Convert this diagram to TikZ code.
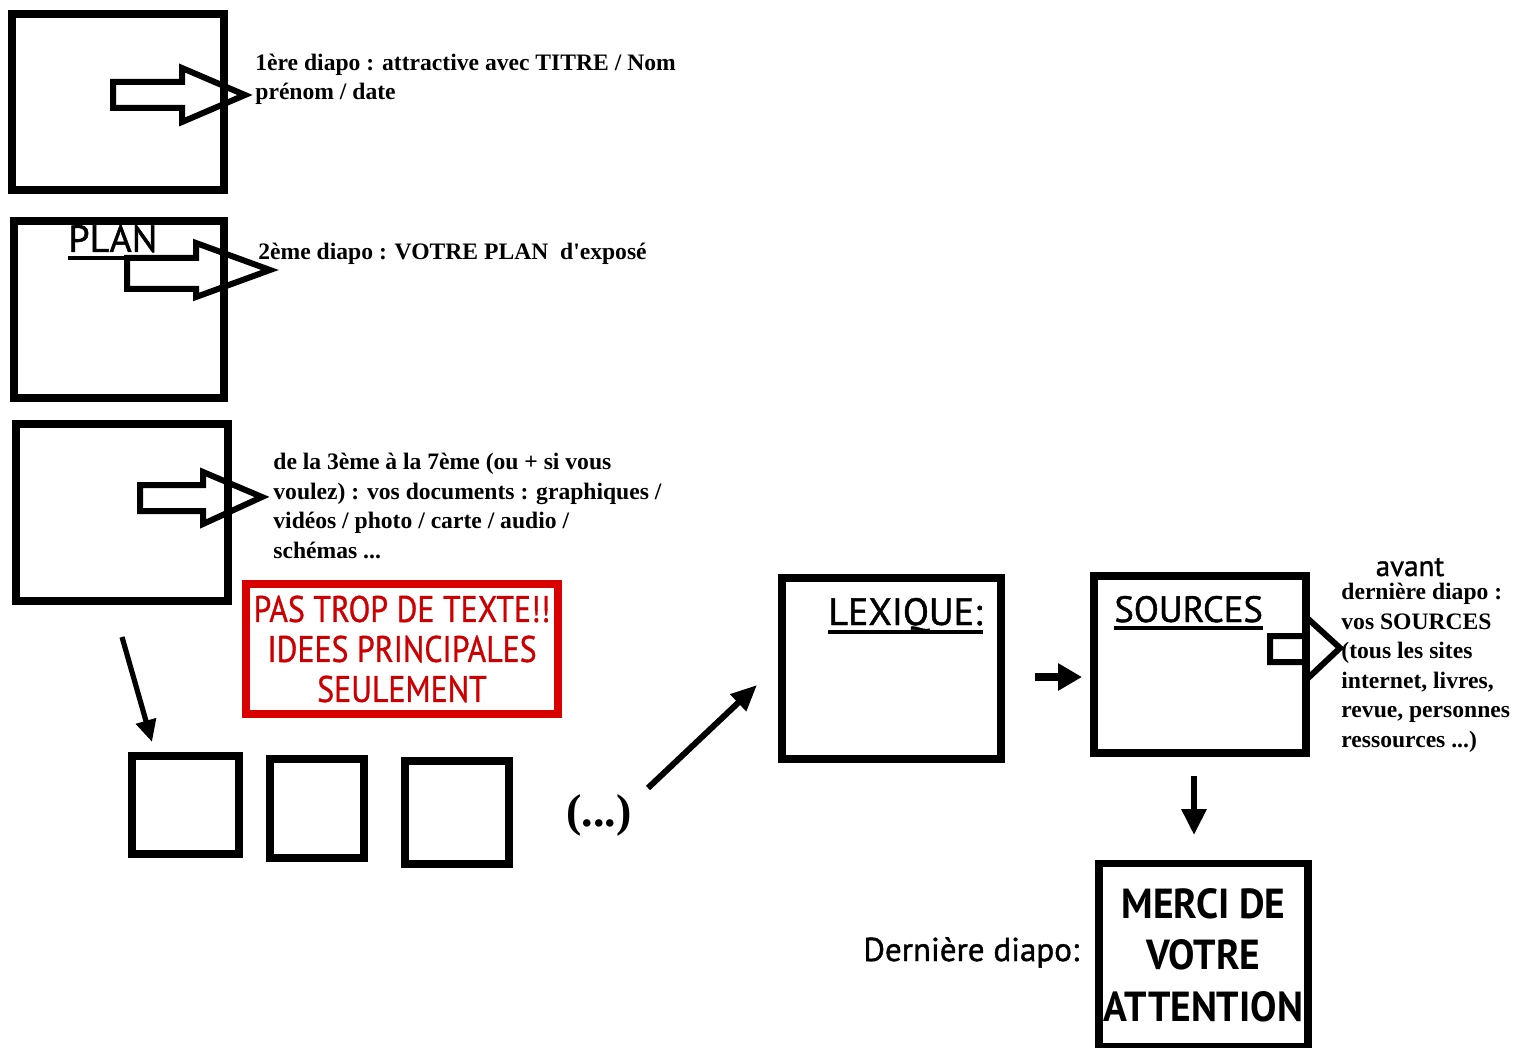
\documentclass[tikz,border=0pt]{standalone}
\usepackage{fontspec}
\setmainfont{Liberation Serif}[Ligatures=TeXOff]
\setsansfont{PT Sans}
\newfontfamily\narrowsans[FakeStretch=0.86,FakeBold=0.8]{PT Sans}
\newfontfamily\midsans[FakeStretch=0.94]{PT Sans}
\newfontfamily\ttlsans[FakeBold=1.2]{PT Sans}
\usetikzlibrary{arrows.meta}
\begin{document}
\begin{tikzpicture}[x=0.5pt,y=-0.5pt,
  slide/.style={draw, line width=3.75pt, inner sep=0pt},
  blockarrow/.style={draw, line width=3pt, line join=miter},
  note/.style={font=\bfseries\fontsize{11.8}{14.75}\selectfont, inner sep=0pt, align=left},
  ttl/.style={font=\ttlsans\fontsize{19}{22}\selectfont, inner sep=0pt},
  conn/.style={line width=2.6pt, -{Triangle[length=11pt,width=10pt]}},
  uline/.style={line width=2pt}]
\useasboundingbox (0,0) rectangle (1520,1048);
\fill[white] (0,0) rectangle (1520,1048);

% slide 1
\node[slide, minimum width=106pt, minimum height=88pt] (b1) at (118,102) {};
\draw[blockarrow] (113,82) -- (182,82) -- (182,68) -- (245,95) -- (182,122) -- (182,108) -- (113,108) -- cycle;
\node[note, anchor=base west] (t1) at (255,100) {1ère diapo : attractive avec TITRE / Nom\\prénom / date};

% slide 2
\node[slide, minimum width=105pt, minimum height=88.5pt] (b2) at (119,309.5) {};
\node[ttl, anchor=base west] (plan) at (68,252) {PLAN};
\draw[uline] ([yshift=-3pt]plan.base west) -- (127,258);
\draw[blockarrow] (127,258) -- (196,258) -- (196,243) -- (270,270) -- (196,297) -- (196,289) -- (127,289) -- cycle;
\node[note, anchor=base west] (t2) at (258,260) {2ème diapo : VOTRE PLAN\ \ d'exposé};

% slide 3
\node[slide, minimum width=106pt, minimum height=88.5pt] (b3) at (122,512.5) {};
\draw[blockarrow] (140,485) -- (203,485) -- (203,472) -- (262,497) -- (203,524) -- (203,511) -- (140,511) -- cycle;
\node[note, anchor=base west] (t3) at (273,558) {de la 3ème à la 7ème (ou + si vous\\voulez) : vos documents : graphiques /\\vidéos / photo / carte / audio /\\schémas ...};

% red warning
\node[draw=red!85!black, line width=4pt, minimum width=156pt, minimum height=65pt, inner sep=0pt,
      text=red!80!black, align=center, font=\narrowsans\fontsize{18.5}{20}\selectfont] (warn) at (402,649)
      {PAS TROP DE TEXTE!!\\IDEES PRINCIPALES\\SEULEMENT};

% small slides
\coordinate (d1s) at (122,637);
\coordinate (d1e) at (152,742);
\draw[conn] (d1s) -- (d1e);
\node[slide, minimum width=53.5pt, minimum height=49pt] (s1) at (185.5,805) {};
\node[slide, minimum width=47pt, minimum height=49.5pt] (s2) at (317,808.5) {};
\node[slide, minimum width=52pt, minimum height=51.5pt] (s3) at (457,812.5) {};
\node[font=\bfseries\fontsize{23}{26}\selectfont, inner sep=0pt] (dots) at (599,815) {(...)};

\coordinate (d2s) at (648,788);
\coordinate (d2e) at (757,685);
\draw[conn, line width=3pt, -{Triangle[length=13pt,width=11pt]}] (d2s) -- (d2e);

% lexique
\node[slide, minimum width=109.5pt, minimum height=90.5pt] (lex) at (891.5,668.5) {};
\node[ttl, anchor=base west] (lexl) at (828,625) {LEXIQUE:};
\draw[uline] ([yshift=-3.5pt]lexl.base west) -- ([yshift=-3.5pt]lexl.base east);

\coordinate (d3s) at (1035,677);
\coordinate (d3e) at (1082,677);
\draw[line width=4pt, -{Triangle[length=12pt,width=13pt]}] (d3s) -- (d3e);

% sources
\node[slide, minimum width=106pt, minimum height=88.5pt] (src) at (1200,664.5) {};
\node[ttl, font=\ttlsans\fontsize{18.3}{22}\selectfont, anchor=base west] (srcl) at (1114,622) {SOURCES};
\draw[uline] ([yshift=-3pt]srcl.base west) -- ([yshift=-3pt]srcl.base east);
\draw[blockarrow] (1270,636) -- (1306,636) -- (1306,617) -- (1340,648) -- (1306,680) -- (1306,662) -- (1270,662) -- cycle;
\node[font=\ttlsans\fontsize{14.5}{17}\selectfont, inner sep=0pt, anchor=base] (avant) at (1410,576) {avant};
\node[note, anchor=base west] (t4) at (1341,747) {dernière diapo :\\vos SOURCES\\(tous les sites\\internet, livres,\\revue, personnes\\ressources ...)};

\coordinate (d4s) at (1194,776);
\coordinate (d4e) at (1194,835);
\draw[line width=3pt, -{Triangle[length=13pt,width=12pt]}] (d4s) -- (d4e);

% merci
\node[slide, minimum width=104.5pt, minimum height=91.5pt, align=center,
      font=\midsans\bfseries\fontsize{21}{25.75}\selectfont] (merci) at (1203.5,955)
      {MERCI DE\\VOTRE\\ATTENTION};
\node[font=\ttlsans\fontsize{16.5}{20}\selectfont, inner sep=0pt, anchor=base west] (last) at (863,961) {Dernière diapo:};
\end{tikzpicture}
\end{document}
